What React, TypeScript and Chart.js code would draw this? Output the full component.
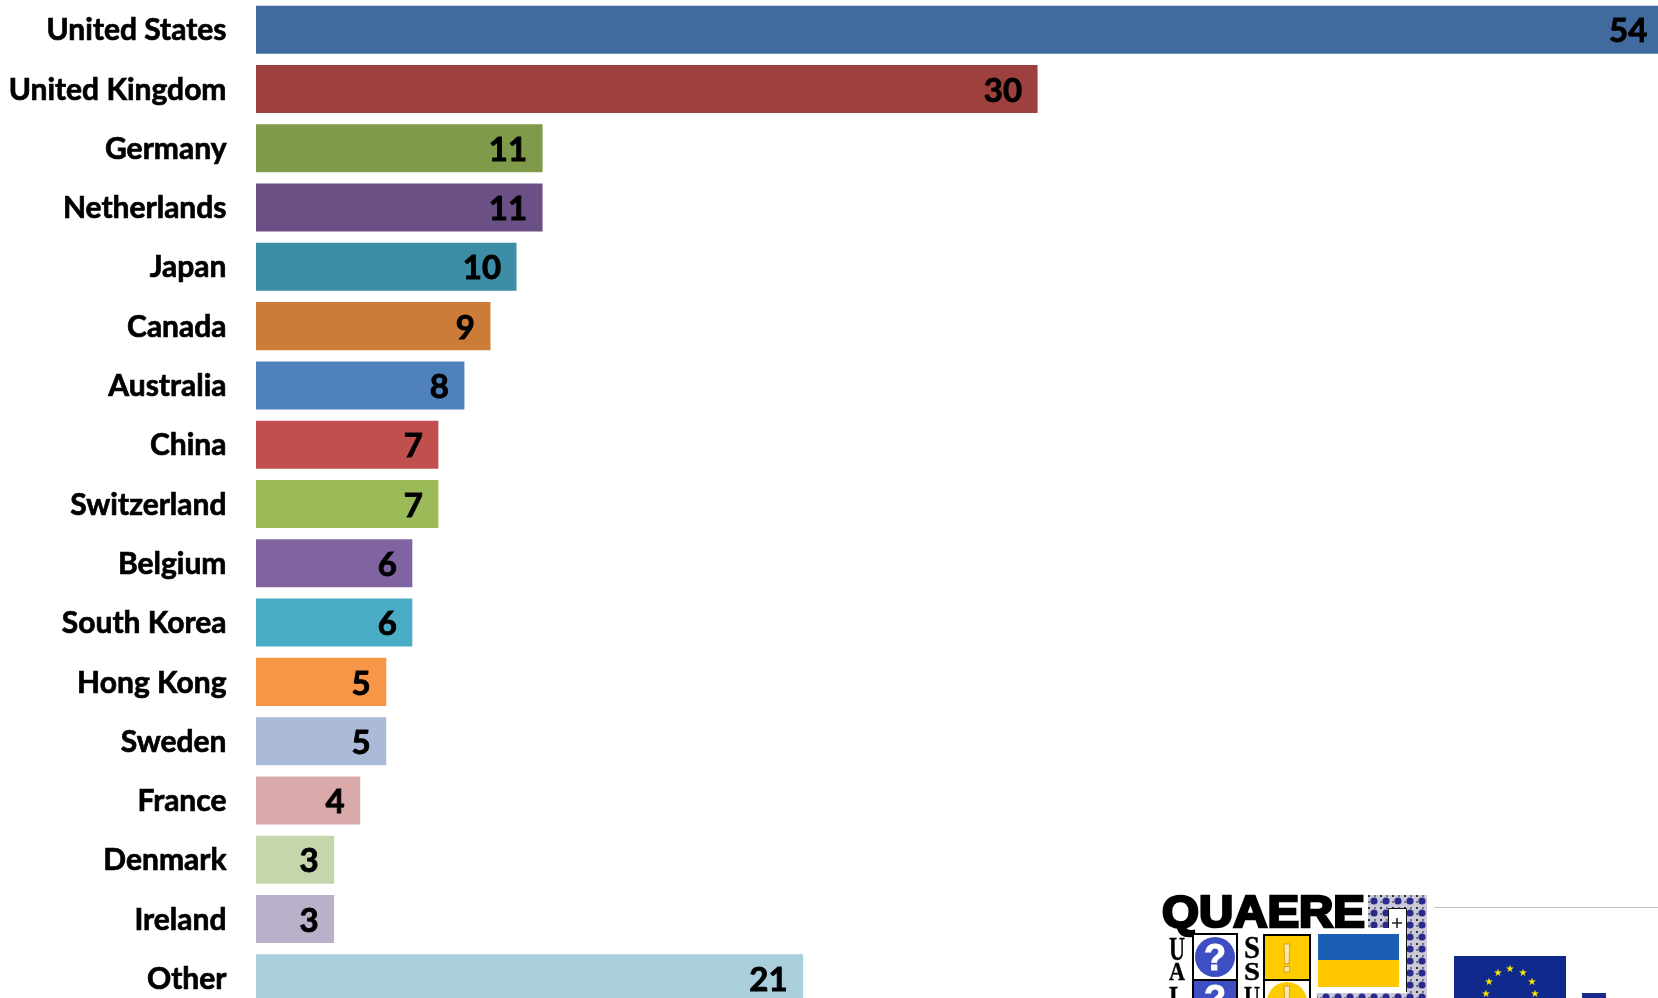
import React, { useEffect, useRef } from "react";
import { Chart, registerables } from "chart.js";

Chart.register(...registerables);

const categories = ["United States","United Kingdom","Germany","Netherlands","Japan","Canada","Australia","China","Switzerland","Belgium","South Korea","Hong Kong","Sweden","France","Denmark","Ireland","Other"];
const values = [54,30,11,11,10,9,8,7,7,6,6,5,5,4,3,3,21];
const barColors = ["#416B9E","#9E413E","#7F9A48","#6A5084","#3D8DA7","#CC7B38","#4F81BD","#C0504D","#9BBB59","#8064A2","#4BACC6","#F79646","#AABAD7","#D9AAA9","#C6D6AC","#BAB0C9","#A9CEDC"];

const FONT = "Lato, 'Open Sans', sans-serif";

const valueLabels = {
  id: "valueLabels",
  afterDatasetsDraw(chart: any) {
    const { ctx } = chart;
    const meta = chart.getDatasetMeta(0);
    ctx.save();
    ctx.font = `bold 33px ${FONT}`;
    ctx.fillStyle = "#000";
    ctx.strokeStyle = "#000";
    ctx.lineWidth = 0.9;
    ctx.textAlign = "right";
    ctx.textBaseline = "middle";
    meta.data.forEach((el: any, i: number) => {
      ctx.strokeText(String(values[i]), el.x - 15.5, el.y + 2);
      ctx.fillText(String(values[i]), el.x - 15.5, el.y + 2);
    });
    ctx.restore();
  },
};

const SANS = "'Liberation Sans', sans-serif";
const SERIF = "'Liberation Serif', serif";

function Logos() {
  const blue = "#3E4FC4";
  const yellow = "#FFCC00";
  const letter = (ch: string, x: number, y: number, size: number) => (
    <text x={x} y={y} fontFamily={SERIF} fontWeight={700} fontSize={size} textAnchor="middle" textLength={16} lengthAdjust="spacingAndGlyphs" stroke="#000" strokeWidth={0.4}>{ch}</text>
  );
  return (
    <svg width={1658} height={998} style={{ position: "absolute", left: 0, top: 0, pointerEvents: "none" }}>
      <defs>
        <pattern id="orn" width={12} height={12} patternUnits="userSpaceOnUse" x={1368} y={895}>
          <rect width={12} height={12} fill="#C9C9DA" />
          <circle cx={6} cy={6} r={3.6} fill="#2A2A8C" />
          <rect x={0} y={0} width={2} height={2} fill="#333" />
          <rect x={6} y={0} width={2} height={2} fill="#777" />
          <rect x={0} y={6} width={2} height={2} fill="#777" />
        </pattern>
      </defs>
      <line x1={1434} y1={907.5} x2={1658} y2={907.5} stroke="#BDBDBD" strokeWidth={1} />

      <path d="M1368 895H1427V998H1317V993H1407V908H1388V928H1368Z" fill="url(#orn)" />
      <rect x={1388.5} y={908.5} width={18} height={84} fill="#fff" />
      <path d="M1388.5 928V908.5H1406.5V992" fill="none" stroke="#111" strokeWidth={1} />
      <path d="M1392 923H1402M1397 918V928" stroke="#222" strokeWidth={1.6} />
      <rect x={1318} y={934} width={81} height={26} fill="#1B5FB5" />
      <rect x={1318} y={960} width={81} height={27} fill="#FFC800" />

      <text x={1162} y={927} fontFamily={SANS} fontWeight={700} fontSize={44} stroke="#000" strokeWidth={2.6} textLength={203} lengthAdjust="spacingAndGlyphs">QUAERE</text>

      {letter("U", 1177, 960, 34)}
      {letter("A", 1177, 980, 26)}
      {letter("L", 1177, 1006, 30)}
      {letter("S", 1252, 958, 32)}
      {letter("S", 1252, 980, 26)}
      {letter("U", 1252, 1006, 30)}

      <rect x={1193} y={934} width={44} height={46} fill="#fff" stroke="#000" strokeWidth={2} />
      <circle cx={1215} cy={957} r={20} fill={blue} />
      <text x={1215} y={970} fill="#fff" fontFamily={SANS} fontWeight={700} fontSize={36} textAnchor="middle" stroke="#fff" strokeWidth={1}>?</text>
      <rect x={1193} y={980} width={44} height={32} fill={blue} stroke="#000" strokeWidth={2} />
      <text x={1215} y={1011} fill="#fff" fontFamily={SANS} fontWeight={700} fontSize={36} textAnchor="middle" stroke="#fff" strokeWidth={1}>?</text>
      <rect x={1264} y={935} width={46} height={45} fill={yellow} stroke="#000" strokeWidth={2} />
      <text x={1287} y={972} fill="#FBE9A8" stroke="#D8A030" strokeWidth={1} fontFamily={SANS} fontWeight={700} fontSize={40} textAnchor="middle">!</text>
      <rect x={1264} y={980} width={46} height={32} fill="#fff" stroke="#000" strokeWidth={2} />
      <circle cx={1287} cy={1002} r={20} fill={yellow} />
      <text x={1287} y={1014} fill="#FBE9A8" stroke="#D8A030" strokeWidth={1} fontFamily={SANS} fontWeight={700} fontSize={40} textAnchor="middle">!</text>

      <rect x={1454} y={956} width={112} height={42} fill="#0F2A8C" />
      <g fill="#FFE800" fontFamily="'DejaVu Sans', sans-serif" fontSize={10} textAnchor="middle">
        <text x={1510} y={971.5}>★</text><text x={1498} y={975.5}>★</text><text x={1523} y={975.5}>★</text>
        <text x={1489} y={984.5}>★</text><text x={1532} y={984.5}>★</text><text x={1486} y={996.5}>★</text><text x={1535} y={996.5}>★</text>
      </g>
      <rect x={1582} y={993} width={24} height={5} fill="#1A2A8C" />
    </svg>
  );
}

export default function App() {
  const ref = useRef<HTMLCanvasElement>(null);
  useEffect(() => {
    document.body.style.margin = "0";
    document.body.style.overflow = "hidden";
    const chart = new Chart(ref.current!, {
      type: "bar",
      data: {
        labels: categories,
        datasets: [{ data: values, backgroundColor: barColors, categoryPercentage: 1, barPercentage: 0.81 }],
      },
      options: {
        indexAxis: "y",
        animation: false,
        responsive: false,
        layout: { padding: 0 },
        plugins: { legend: { display: false }, tooltip: { enabled: false } },
        scales: {
          x: { display: false, min: 0, max: 54.66 },
          y: {
            afterFit(axis: any) { axis.width = 256; axis.paddingTop = 0; axis.paddingBottom = 0; },
            border: { display: false },
            grid: { display: false, drawTicks: false },
            ticks: {
              color: "#000",
              padding: 29.5,
              autoSkip: false,
              labelOffset: 1,
              textStrokeColor: "#000",
              textStrokeWidth: 0.7,
              font: { family: FONT, size: 30, weight: "bold" },
            },
          },
        },
      },
      plugins: [valueLabels],
    } as any);
    return () => chart.destroy();
  }, []);
  return (
    <div style={{ position: "relative", width: 1658, height: 998, overflow: "hidden", background: "#fff" }}>
      <canvas ref={ref} width={1680} height={1008} style={{ display: "block", width: 1680, height: 1008 }} />
      <Logos />
    </div>
  );
}
